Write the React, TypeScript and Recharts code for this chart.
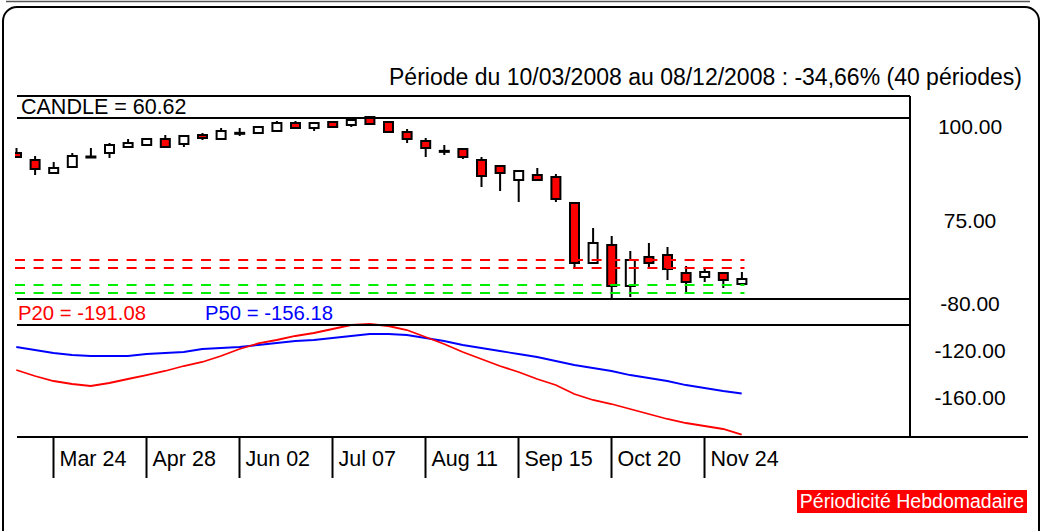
import {
  ComposedChart,
  Bar,
  Line,
  XAxis,
  YAxis,
  ReferenceLine,
} from "recharts";

// weekly periods, 10/03/2008 .. 08/12/2008
const weeks = [
  "Mar 10", "Mar 17", "Mar 24", "Mar 31", "Apr 07", "Apr 14", "Apr 21", "Apr 28",
  "May 05", "May 12", "May 19", "May 26", "Jun 02", "Jun 09", "Jun 16", "Jun 23",
  "Jun 30", "Jul 07", "Jul 14", "Jul 21", "Jul 28", "Aug 04", "Aug 11", "Aug 18",
  "Aug 25", "Sep 01", "Sep 08", "Sep 15", "Sep 22", "Sep 29", "Oct 06", "Oct 13",
  "Oct 20", "Oct 27", "Nov 03", "Nov 10", "Nov 17", "Nov 24", "Dec 01", "Dec 08",
];

const open = [
  93.09, 91.22, 87.77, 89.36, 92.0, 93.09, 94.68, 95.21, 96.81, 95.48,
  97.87, 96.81, 98.35, 98.4, 98.94, 101.06, 99.73, 101.33, 100.53, 102.66,
  101.33, 98.67, 96.28, 93.65, 94.15, 91.22, 89.63, 85.9, 87.23, 86.7,
  79.79, 63.83, 68.62, 57.71, 65.43, 65.96, 61.17, 60.11, 61.17, 58.24,
];
const high = [
  94.41, 92.29, 90.69, 93.09, 94.41, 95.74, 96.81, 97.07, 97.87, 97.7,
  98.4, 99.73, 99.73, 100.1, 101.6, 101.6, 101.1, 101.4, 101.9, 102.7,
  101.4, 99.47, 97.07, 95.21, 94.2, 92.02, 89.7, 88.4, 89.1, 87.5,
  79.9, 73.14, 71.01, 67.02, 69.15, 68.09, 63.03, 62.5, 61.3, 61.44,
];
const low = [
  91.76, 87.23, 87.6, 89.2, 91.9, 91.76, 94.6, 95.1, 94.6, 94.68,
  96.54, 96.7, 97.61, 98.3, 98.8, 99.6, 98.94, 99.9, 100.0, 100.7,
  98.5, 95.74, 92.02, 92.55, 91.49, 84.04, 82.98, 80.05, 85.8, 80.05,
  62.5, 63.7, 54.3, 54.79, 62.77, 59.31, 55.85, 58.78, 57.18, 58.1,
];
const close = [
  92.02, 88.83, 89.1, 92.29, 92.15, 95.21, 95.74, 96.81, 94.68, 97.61,
  97.07, 98.94, 98.45, 100.0, 101.06, 99.73, 101.06, 100.0, 101.86, 100.8,
  98.67, 96.81, 94.41, 93.55, 92.02, 86.97, 87.77, 88.3, 85.9, 80.85,
  63.83, 69.15, 57.71, 64.63, 63.83, 62.23, 58.78, 61.44, 59.31, 59.57,
];

const p20 = [
  -136.17, -141.28, -145.53, -148.09, -149.79, -147.23, -143.83, -140.43, -137.02, -132.77,
  -129.36, -124.26, -118.3, -113.6, -110.64, -107.23, -104.68, -101.28, -97.87, -97.02,
  -98.72, -102.13, -108.09, -114.04, -120.85, -126.81, -132.77, -137.87, -143.83, -148.94,
  -156.6, -161.7, -165.11, -169.36, -173.62, -177.87, -181.28, -183.83, -186.38, -191.08,
];
const p50 = [
  -116.6, -119.15, -121.7, -123.4, -124.26, -124.26, -124.26, -122.55, -121.7, -120.85,
  -118.3, -117.45, -116.6, -114.89, -113.19, -111.49, -110.64, -108.94, -107.23, -105.53,
  -105.53, -106.38, -108.94, -111.49, -114.89, -117.45, -120.0, -122.55, -125.11, -128.51,
  -131.91, -134.47, -137.02, -140.43, -142.98, -145.53, -148.94, -151.49, -154.04, -156.18,
];

const resistance = [64.63, 62.5];
const support = [57.98, 55.85];

const priceTicks = [100, 75];
const indTicks = [-80, -120, -160];
const dateTicks = ["Mar 24", "Apr 28", "Jun 02", "Jul 07", "Aug 11", "Sep 15", "Oct 20", "Nov 24"];

const candleData = weeks.map((w, i) => ({
  i,
  week: w,
  o: open[i],
  h: high[i],
  l: low[i],
  c: close[i],
  p20: p20[i],
  p50: p50[i],
}));
const tickIdx = dateTicks.map((d) => weeks.indexOf(d));
const lastIdx = weeks.length - 1;

const W = 1044;
const FONT = "'Liberation Sans', Arial, sans-serif";
const X_MIN = -0.07;
const X_MAX = 48.048;
const PRICE_DOMAIN: [number, number] = [54.255, 108.245];
const IND_DOMAIN: [number, number] = [-193.19, -75.745];

function Candle(props: any) {
  const { x, y, width, height, payload } = props;
  const { o, h, l, c } = payload;
  const k = height / (h - l);
  const top = y + (h - Math.max(o, c)) * k;
  const bot = y + (h - Math.min(o, c)) * k;
  const cx = x + width / 2;
  return (
    <g>
      <line x1={cx} x2={cx} y1={y} y2={y + height} stroke="#000" strokeWidth={2} />
      <rect
        x={x + 1}
        y={top}
        width={width - 2}
        height={Math.max(bot - top, 1)}
        fill={o > c ? "#ff0000" : "#ffffff"}
        stroke="#000"
        strokeWidth={2}
      />
    </g>
  );
}

function ValueTick(props: any) {
  const { x, y, payload } = props;
  return (
    <text x={x + 60} y={y} dy="0.35em" textAnchor="middle" fontFamily={FONT} fontSize={21} fill="#000">
      {payload.value.toFixed(2)}
    </text>
  );
}

function DateTick(props: any) {
  const { x, y, payload } = props;
  return (
    <g>
      <line x1={x} x2={x} y1={y} y2={y + 41} stroke="#000" strokeWidth={2} />
      <text x={x + 6} y={y + 29} fontFamily={FONT} fontSize={21.5} fill="#000">
        {weeks[payload.value]}
      </text>
    </g>
  );
}

export default function App() {
  return (
    <div style={{ position: "absolute", left: 0, top: 0, width: W, height: 531, background: "#fff", overflow: "hidden" }}>
      <div style={{ position: "absolute", left: 0, top: 0 }}>
        <ComposedChart width={W} height={299} data={candleData} margin={{ top: 96, right: 0, bottom: 0, left: 15 }}>
          <XAxis type="number" dataKey="i" domain={[X_MIN, X_MAX]} allowDataOverflow hide />
          <YAxis
            orientation="right"
            width={134}
            type="number"
            domain={PRICE_DOMAIN}
            allowDataOverflow
            ticks={priceTicks}
            axisLine={false}
            tickLine={false}
            tickSize={0}
            tickMargin={0}
            tick={<ValueTick />}
          />
          {resistance.map((v) => (
            <ReferenceLine
              key={"r" + v}
              segment={[{ x: X_MIN, y: v }, { x: lastIdx + 0.15, y: v }]}
              stroke="#ff0000"
              strokeWidth={2}
              strokeDasharray="10 8.6"
            />
          ))}
          {support.map((v) => (
            <ReferenceLine
              key={"s" + v}
              segment={[{ x: X_MIN, y: v }, { x: lastIdx + 0.15, y: v }]}
              stroke="#00ee00"
              strokeWidth={2}
              strokeDasharray="10 8.6"
            />
          ))}
          <Bar dataKey={(d: any) => [d.l, d.h]} barSize={11} shape={Candle} isAnimationActive={false} />
        </ComposedChart>
      </div>
      <div style={{ position: "absolute", left: 0, top: 0 }}>
        <ComposedChart width={W} height={487} data={candleData} margin={{ top: 299, right: 0, bottom: 0, left: 15 }}>
          <XAxis
            type="number"
            dataKey="i"
            domain={[X_MIN, X_MAX]}
            allowDataOverflow
            ticks={tickIdx}
            interval={0}
            height={50}
            axisLine={false}
            tickLine={false}
            tickSize={0}
            tickMargin={0}
            tick={<DateTick />}
          />
          <YAxis
            orientation="right"
            width={134}
            type="number"
            domain={IND_DOMAIN}
            allowDataOverflow
            ticks={indTicks}
            axisLine={false}
            tickLine={false}
            tickSize={0}
            tickMargin={0}
            tick={<ValueTick />}
          />
          <Line type="linear" dataKey="p50" stroke="#0000ff" strokeWidth={1.8} dot={false} isAnimationActive={false} />
          <Line type="linear" dataKey="p20" stroke="#ff0000" strokeWidth={1.8} dot={false} isAnimationActive={false} />
        </ComposedChart>
      </div>
      <svg width={W} height={531} style={{ position: "absolute", left: 0, top: 0, pointerEvents: "none" }}>
        <path d="M 6 1.5 L 1030 1.5" stroke="#555" strokeWidth={1.5} />
        <rect x={3} y={7} width={1036} height={540} rx={14} fill="none" stroke="#000" strokeWidth={2} />
        <text x={1022} y={85} textAnchor="end" fontFamily={FONT} fontSize={23} fill="#000">
          Période du 10/03/2008 au 08/12/2008 : -34,66% (40 périodes)
        </text>
        <g stroke="#000" strokeWidth={2} fill="none">
          <path d="M 17 96 L 910 96" />
          <path d="M 17 118 L 910 118" />
          <path d="M 17 299 L 910 299" />
          <path d="M 17 325 L 910 325" />
          <path d="M 910 96 L 910 437" />
          <path d="M 17 437 L 1028 437" />
        </g>
        <text x={21} y={113.5} fontFamily={FONT} fontSize={21.5} fill="#000">
          CANDLE = 60.62
        </text>
        <text x={18} y={319.5} fontFamily={FONT} fontSize={20.3} fill="#ff0000">
          P20 = -191.08
        </text>
        <text x={205} y={319.5} fontFamily={FONT} fontSize={20.3} fill="#0000ff">
          P50 = -156.18
        </text>
        <rect x={797} y={490} width={230} height={23} fill="#ff0000" />
        <text x={912} y={508} textAnchor="middle" fontFamily={FONT} fontSize={19.5} fill="#fff">
          Périodicité Hebdomadaire
        </text>
      </svg>
    </div>
  );
}
